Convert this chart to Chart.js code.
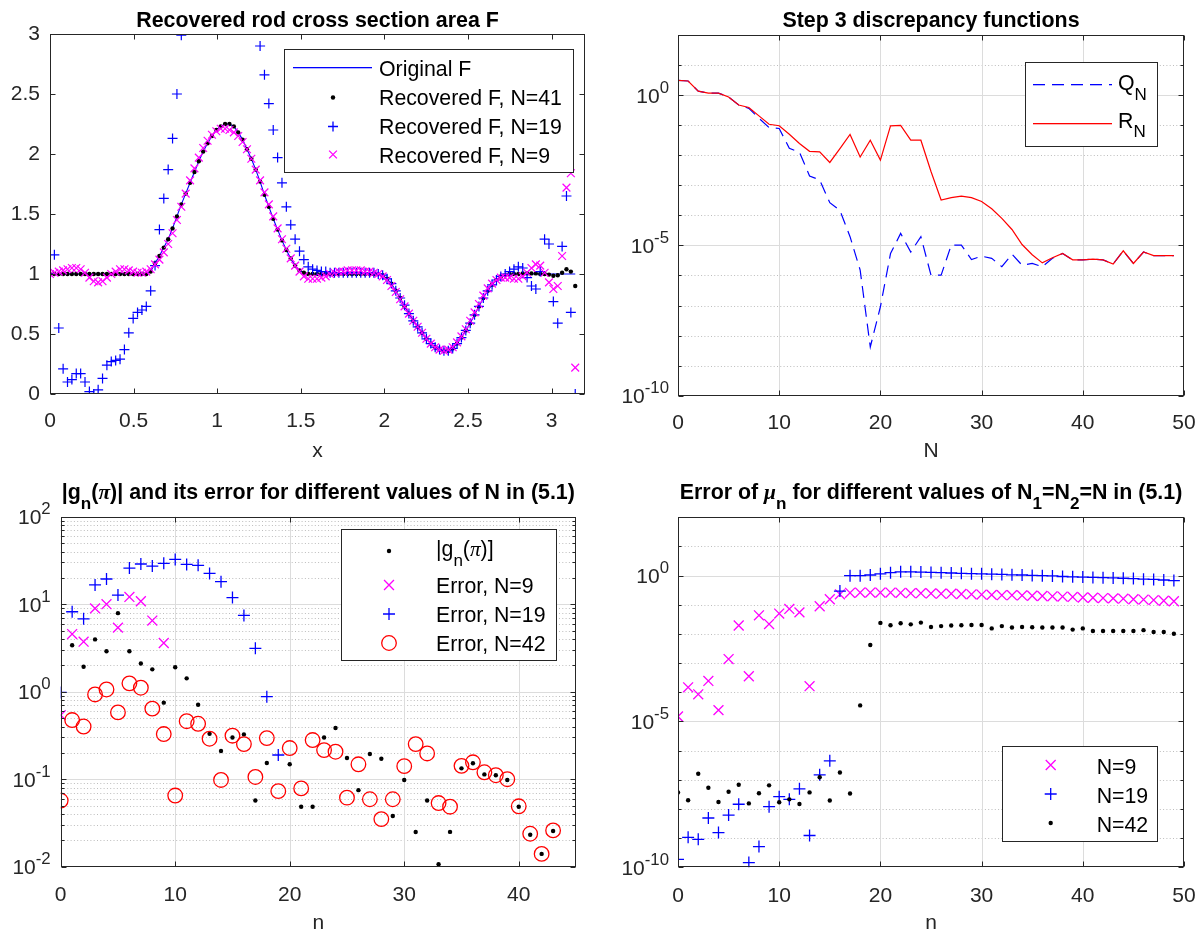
<!DOCTYPE html>
<html><head><meta charset="utf-8">
<script src="https://cdn.jsdelivr.net/npm/chart.js@4.4.1/dist/chart.umd.min.js"></script>
<style>
html,body{margin:0;padding:0;background:#fff;}
body{width:1204px;height:936px;position:relative;overflow:hidden;}
canvas{position:absolute;}
</style></head><body>
<canvas id="c1" width="600" height="468" style="left:0;top:0"></canvas>
<canvas id="c2" width="604" height="468" style="left:600px;top:0"></canvas>
<canvas id="c3" width="600" height="468" style="left:0;top:468px"></canvas>
<canvas id="c4" width="604" height="468" style="left:600px;top:468px"></canvas>
<script>
// ================= DATA =================
// Panel 1: recovered rod cross section area F
const p1X = [0,0.0262,0.0524,0.0785,0.1047,0.1309,0.1571,0.1833,0.2094,0.2356,
0.2618,0.2880,0.3142,0.3403,0.3665,0.3927,0.4189,0.4451,0.4712,0.4974,
0.5236,0.5498,0.5760,0.6021,0.6283,0.6545,0.6807,0.7069,0.7330,0.7592,
0.7854,0.8116,0.8378,0.8639,0.8901,0.9163,0.9425,0.9687,0.9948,1.0210,
1.0472,1.0734,1.0996,1.1257,1.1519,1.1781,1.2043,1.2305,1.2566,1.2828,
1.3090,1.3352,1.3614,1.3875,1.4137,1.4399,1.4661,1.4923,1.5184,1.5446,
1.5708,1.5970,1.6232,1.6493,1.6755,1.7017,1.7279,1.7541,1.7802,1.8064,
1.8326,1.8588,1.8850,1.9111,1.9373,1.9635,1.9897,2.0159,2.0420,2.0682,
2.0944,2.1206,2.1468,2.1729,2.1991,2.2253,2.2515,2.2777,2.3038,2.3300,
2.3562,2.3824,2.4086,2.4347,2.4609,2.4871,2.5133,2.5395,2.5656,2.5918,
2.6180,2.6442,2.6704,2.6965,2.7227,2.7489,2.7751,2.8013,2.8274,2.8536,
2.8798,2.9060,2.9322,2.9583,2.9845,3.0107,3.0369,3.0631,3.0892,3.1154,3.1416];
const p1Original = [1,1,1,1,1,1,1,1,1,1,
1,1,1,1,1,1,1,1,1,1,
1,1,1,1.02,1.09,1.15,1.22,1.29,1.38,1.48,
1.58,1.67,1.76,1.85,1.94,2.02,2.09,2.15,2.20,2.23,
2.25,2.25,2.23,2.18,2.12,2.04,1.96,1.87,1.77,1.66,
1.56,1.46,1.37,1.28,1.20,1.13,1.07,1.03,1.01,1,
1,1,1,1,1,1,1,1,1,1,
1,1,1,1,1,1,0.99,0.96,0.92,0.86,
0.80,0.73,0.67,0.61,0.56,0.51,0.46,0.42,0.39,0.37,
0.36,0.36,0.38,0.42,0.47,0.53,0.59,0.66,0.73,0.80,
0.86,0.91,0.95,0.98,0.99,1,1,1,1,1,
1,1,1,1,1,1,1,1,1,1,1];
const p1N41 = [1,1,1,1,1,1,1,1,1,1,
1,1,1,1,1,1,1,1,1,1,
1,1,1,1.02,1.09,1.15,1.22,1.29,1.38,1.48,
1.58,1.67,1.76,1.85,1.94,2.02,2.09,2.15,2.20,2.23,
2.25,2.25,2.23,2.18,2.12,2.04,1.96,1.87,1.77,1.66,
1.56,1.46,1.37,1.28,1.20,1.13,1.07,1.03,1.01,1,
1,1,1,1,1,1,1,1,1,1,
1,1,1,1,1,1,0.99,0.96,0.92,0.86,
0.80,0.73,0.67,0.61,0.56,0.51,0.46,0.42,0.39,0.37,
0.36,0.36,0.38,0.42,0.47,0.53,0.59,0.66,0.73,0.80,
0.86,0.91,0.95,0.98,0.99,1,1,1,1.005,1.005,
1.005,1.005,1.0,1.0,0.995,0.985,0.99,1.01,1.04,1.02,0.90];
const p1N19 = [1.00,1.16,0.55,0.21,0.10,0.12,0.17,0.17,0.10,0.02,
0.00,0.035,0.13,0.24,0.27,0.28,0.29,0.37,0.51,0.63,
0.68,0.70,0.73,0.86,1.07,1.37,1.63,1.87,2.13,2.50,
2.99,3.5,3.9,4.2,4.4,4.6,4.7,4.7,4.7,4.6,
4.5,4.3,4.1,3.9,3.7,3.5,3.35,3.2,2.90,2.66,
2.42,2.20,1.97,1.76,1.56,1.41,1.29,1.19,1.12,1.06,
1.04,1.03,1.02,1.02,1.01,1.01,1.01,1.01,1.01,1.01,
1.01,1.01,1.01,1.01,1.01,1.00,0.99,0.96,0.92,0.86,
0.80,0.74,0.67,0.61,0.56,0.51,0.46,0.42,0.39,0.37,
0.36,0.36,0.38,0.42,0.47,0.53,0.59,0.66,0.73,0.80,
0.86,0.91,0.95,0.98,1.00,1.02,1.04,1.06,1.05,0.97,
0.90,0.875,1.02,1.29,1.25,0.77,0.59,1.23,1.65,0.68,0.00];
const p1N9 = [1.00,1.01,1.02,1.03,1.04,1.05,1.05,1.04,1.01,0.97,
0.94,0.93,0.94,0.97,1.00,1.02,1.04,1.04,1.03,1.02,
1.01,1.01,1.02,1.04,1.08,1.12,1.18,1.25,1.34,1.45,
1.56,1.67,1.78,1.88,1.97,2.05,2.11,2.16,2.19,2.21,
2.21,2.20,2.18,2.15,2.10,2.04,1.96,1.87,1.78,1.68,
1.58,1.48,1.38,1.29,1.21,1.13,1.07,1.02,0.98,0.96,
0.96,0.96,0.97,0.98,1.00,1.01,1.02,1.02,1.03,1.03,
1.03,1.03,1.02,1.02,1.01,1.00,0.98,0.95,0.90,0.85,
0.79,0.73,0.67,0.61,0.56,0.51,0.46,0.42,0.39,0.37,
0.36,0.37,0.39,0.43,0.48,0.54,0.61,0.68,0.75,0.82,
0.88,0.92,0.95,0.97,0.97,0.97,0.96,0.96,0.98,1.01,
1.05,1.08,1.07,1.01,0.93,0.875,0.90,1.15,1.72,1.84,0.22];
const p1XTicks = [0,0.5,1,1.5,2,2.5,3];
const p1XTickLabels = ['0','0.5','1','1.5','2','2.5','3'];
const p1YTicks = [0,0.5,1,1.5,2,2.5,3];
const p1YTickLabels = ['0','0.5','1','1.5','2','2.5','3'];

// Panel 2: step 3 discrepancy functions
const p2N = [0,1,2,3,4,5,6,7,8,9,10,11,12,13,14,15,16,17,18,19,20,21,22,23,24,
25,26,27,28,29,30,31,32,33,34,35,36,37,38,39,40,41,42,43,44,45,46,47,48,49];
const p2Q = [3.09,2.95,1.35,1.17,1.17,0.87,0.468,0.363,0.17,0.0832,
0.0776,0.017,0.0126,0.00204,0.00151,2.63e-4,1.45e-4,1.95e-5,1.51e-6,4.17e-9,
9.1e-8,5.37e-6,2.51e-5,6.03e-6,1.95e-5,1.02e-6,1.02e-6,1.02e-5,1.02e-5,3.39e-6,
4.37e-6,3.72e-6,1.95e-6,5.13e-6,2.19e-6,2.51e-6,1.95e-6,3.72e-6,5.37e-6,3.31e-6,
3.31e-6,3.47e-6,3.31e-6,2.4e-6,6.61e-6,2.51e-6,6.03e-6,4.57e-6,4.57e-6,4.57e-6];
const p2R = [3.09,2.95,1.35,1.17,1.17,0.87,0.468,0.389,0.204,0.107,
0.0955,0.0501,0.0245,0.0135,0.0129,0.00575,0.0166,0.049,0.0087,0.0316,
0.0069,0.0955,0.0977,0.0316,0.0316,0.00288,3.24e-4,3.89e-4,4.37e-4,3.89e-4,
2.88e-4,1.66e-4,7.94e-5,3.39e-5,1.07e-5,4.9e-6,2.63e-6,3.89e-6,5.37e-6,3.31e-6,
3.31e-6,3.47e-6,3.31e-6,2.4e-6,6.61e-6,2.51e-6,6.03e-6,4.57e-6,4.57e-6,4.57e-6];
const p2XTicks = [0,10,20,30,40,50];
const p2XTickLabels = ['0','10','20','30','40','50'];
const p2YTicks = [1e-10,1e-5,1];
const p2YTickExponents = ['-10','-5','0'];

// Panel 3: |g_n(pi)| and its error
const p3N = [0,1,2,3,4,5,6,7,8,9,10,11,12,13,14,15,16,17,18,19,20,21,
22,23,24,25,26,27,28,29,30,31,32,33,34,35,36,37,38,39,40,41,42,43];
const p3G = [null,3.4,1.93,3.96,2.9,7.9,2.9,2.1,1.8,0.75,
1.9,1.42,0.71,0.33,0.21,0.30,0.325,0.057,0.153,null,
0.148,0.0485,0.0485,0.30,0.385,0.175,0.075,0.194,0.171,0.038,
0.098,0.0249,0.057,0.0107,0.025,0.133,0.152,0.1135,0.111,0.098,
0.0485,0.0232,0.014,0.0256];
const p3Err9 = [0.54,4.56,3.73,8.96,10.0,5.4,12.1,10.8,6.5,3.6];
const p3Err19 = [0.98,8.2,6.8,16.6,19.4,12.7,25.9,28.8,27.3,29.3,
32.5,28.5,27.8,22.5,18.1,11.9,7.45,3.13,0.877,0.189];
const p3Err42 = [0.057,0.474,0.40,0.93,1.06,0.58,1.245,1.11,0.64,0.328,
0.065,0.46,0.43,0.29,0.098,0.314,0.252,0.106,0.295,0.073,
0.227,0.0785,0.28,0.215,0.206,0.0615,0.148,0.059,0.035,0.059,
0.141,0.252,0.197,0.0534,0.0485,0.142,0.156,0.12,0.111,0.1,
0.049,0.0238,0.014,0.026];
const p3XTicks = [0,10,20,30,40];
const p3XTickLabels = ['0','10','20','30','40'];
const p3YTicks = [1e-2,1e-1,1,10,100];
const p3YTickExponents = ['-2','-1','0','1','2'];

// Panel 4: error of mu_n
const p4N = p2N;
const p4Err9 = [1.48e-5,1.48e-4,8.5e-5,2.45e-4,2.45e-5,1.38e-3,0.0195,3.55e-4,0.0437,0.0219,
0.0501,0.0724,0.055,1.62e-4,0.0891,0.155,0.229,0.257,0.263,0.263,
0.263,0.263,0.257,0.251,0.251,0.245,0.240,0.240,0.234,0.229,
0.224,0.219,0.214,0.214,0.209,0.204,0.200,0.195,0.191,0.186,
0.178,0.174,0.170,0.166,0.162,0.155,0.151,0.145,0.138,0.132];
const p4Err19 = [1.86e-10,1.07e-9,9.1e-10,4.9e-9,1.55e-9,6.17e-9,1.45e-8,1.45e-10,5.13e-10,1.2e-8,
2.63e-8,2.14e-8,4.9e-8,1.23e-9,1.48e-7,4.47e-7,0.295,1.0,1.0,1.05,
1.15,1.26,1.35,1.35,1.32,1.29,1.26,1.23,1.20,1.17,
1.15,1.12,1.10,1.07,1.05,1.02,1.0,0.977,0.933,0.912,
0.891,0.871,0.851,0.832,0.813,0.794,0.759,0.741,0.708,0.676];
const p4Err42 = [3.7e-8,2.0e-8,1.62e-7,5.37e-8,1.74e-8,3.89e-8,6.76e-8,1.55e-8,3.47e-8,6.46e-8,
1.7e-8,2.14e-8,1.48e-8,3.7e-8,1.23e-7,1.95e-8,1.78e-7,3.39e-8,3.55e-5,4.17e-3,
0.024,0.02,0.0234,0.0214,0.0245,0.0174,0.0186,0.0195,0.02,0.0204,
0.0204,0.0155,0.0186,0.0166,0.0174,0.017,0.0166,0.0166,0.0166,0.0141,
0.0155,0.0126,0.0126,0.0126,0.0126,0.0126,0.0135,0.0117,0.0117,0.0102];
const p4XTicks = p2XTicks;
const p4XTickLabels = p2XTickLabels;
const p4YTicks = p2YTicks;
const p4YTickExponents = p2YTickExponents;

// ================= STYLE / HELPERS =================
const BLUE = '#0000ff', MAG = '#ff00ff', RED = '#ff0000', BLK = '#000000', AX = '#262626';
const SANS = "'Liberation Sans', Arial, Helvetica, sans-serif";
const SERIF = "'Liberation Serif', 'DejaVu Serif', serif";
const TITLE_SIZE = 21.4, LEG_SIZE = 21.3, TICK_SIZE = 21;
Chart.defaults.font.family = SANS;
Chart.defaults.font.size = 21;
Chart.defaults.color = AX;

function pts(xs, ys) {
  const out = [];
  ys.forEach((y, i) => { if (y !== null && y !== undefined) out.push({x: xs[i], y: y}); });
  return out;
}
function minorLog(a, b) { const r = []; for (let e = a; e < b; e++) for (let m = 2; m <= 9; m++) r.push(m * Math.pow(10, e)); return r; }

function xAxis(min, max, tv, tl, title, h, pb, tpad) {
  return {
    type: 'linear', min: min, max: max, position: 'bottom',
    afterBuildTicks: s => { s.ticks = tv.map(v => ({value: v})); },
    afterFit: s => { s.height = h; s.paddingLeft = 0; s.paddingRight = 0; },
    grid: {display: false, drawTicks: false}, border: {display: false},
    ticks: {autoSkip: false, maxRotation: 0, minRotation: 0, padding: tpad, color: AX, font: {size: TICK_SIZE},
      callback: (v, i) => tl[i]},
    title: {display: true, text: title, color: AX, font: {size: 21}, padding: {top: 0, bottom: pb}}
  };
}
function yAxisLinear(min, max, tv, tl, w, pad) {
  return {
    type: 'linear', min: min, max: max, position: 'left',
    afterBuildTicks: s => { s.ticks = tv.map(v => ({value: v})); },
    afterFit: s => { s.width = w; s.paddingTop = 0; s.paddingBottom = 0; },
    grid: {display: false, drawTicks: false}, border: {display: false},
    ticks: {autoSkip: false, padding: pad, color: AX, font: {size: TICK_SIZE}, callback: (v, i) => tl[i]}
  };
}
// log axes: scale from the library, labels "10^k" drawn with a raised exponent by the decor plugin
function yAxisLog(min, max, tv, w) {
  return {
    type: 'logarithmic', min: min, max: max, position: 'left',
    afterBuildTicks: s => { s.ticks = tv.map(v => ({value: v})); },
    afterFit: s => { s.width = w; s.paddingTop = 0; s.paddingBottom = 0; },
    grid: {display: false, drawTicks: false}, border: {display: false},
    ticks: {display: false, autoSkip: false}
  };
}

function segFont(s, size, bold) {
  const sz = (s.sub || s.sup) ? size * 0.8 : size;
  return (s.it ? 'italic ' : '') + (bold ? 'bold ' : '') + sz + 'px ' + (s.serif ? SERIF : SANS);
}
function drawRich(ctx, segs, x, y, align, size, bold, color) {
  ctx.save();
  ctx.fillStyle = color; ctx.textBaseline = 'alphabetic'; ctx.textAlign = 'left';
  let w = 0;
  for (const s of segs) { ctx.font = segFont(s, size, bold); w += ctx.measureText(s.t).width; }
  let cx = align === 'center' ? x - w / 2 : (align === 'right' ? x - w : x);
  for (const s of segs) {
    ctx.font = segFont(s, size, bold);
    const dy = s.sub ? size * 0.45 : (s.sup ? -size * 0.47 : 0);
    ctx.fillText(s.t, cx, y + dy);
    cx += ctx.measureText(s.t).width;
  }
  ctx.restore();
}
function drawMarker(ctx, m, x, y, r, color, lw) {
  ctx.save();
  ctx.strokeStyle = color; ctx.fillStyle = color; ctx.lineWidth = lw;
  ctx.beginPath();
  if (m === 'dot') { ctx.arc(x, y, r, 0, 2 * Math.PI); ctx.fill(); }
  else if (m === 'plus') { ctx.moveTo(x - r, y); ctx.lineTo(x + r, y); ctx.moveTo(x, y - r); ctx.lineTo(x, y + r); ctx.stroke(); }
  else if (m === 'x') { const d = r * Math.SQRT1_2; ctx.moveTo(x - d, y - d); ctx.lineTo(x + d, y + d); ctx.moveTo(x + d, y - d); ctx.lineTo(x - d, y + d); ctx.stroke(); }
  else if (m === 'circle') { ctx.arc(x, y, r, 0, 2 * Math.PI); ctx.stroke(); }
  ctx.restore();
}

function decor(o) {
  return {
    id: 'decor',
    beforeDatasetsDraw(chart) {
      if (!o.grid) return;
      const ctx = chart.ctx, a = chart.chartArea, xs = chart.scales.x, ys = chart.scales.y;
      ctx.save();
      ctx.lineWidth = 1;
      ctx.strokeStyle = 'rgba(38,38,38,0.30)';
      ctx.setLineDash([1, 2.3]);
      for (const v of (o.grid.yMinor || [])) {
        const p = Math.round(ys.getPixelForValue(v)) + 0.5;
        ctx.beginPath(); ctx.moveTo(a.left, p); ctx.lineTo(a.right, p); ctx.stroke();
      }
      ctx.setLineDash([]);
      ctx.strokeStyle = '#dcdcdc';
      for (const v of (o.grid.yMajor || [])) {
        const p = Math.round(ys.getPixelForValue(v)) + 0.5;
        ctx.beginPath(); ctx.moveTo(a.left, p); ctx.lineTo(a.right, p); ctx.stroke();
      }
      for (const v of (o.grid.xMajor || [])) {
        const p = Math.round(xs.getPixelForValue(v)) + 0.5;
        ctx.beginPath(); ctx.moveTo(p, a.top); ctx.lineTo(p, a.bottom); ctx.stroke();
      }
      ctx.restore();
    },
    afterDatasetsDraw(chart) {
      const ctx = chart.ctx, a = chart.chartArea, xs = chart.scales.x, ys = chart.scales.y;
      const L = Math.round(a.left) + 0.5, R = Math.round(a.right) - 0.5, T = Math.round(a.top) + 0.5, B = Math.round(a.bottom) - 0.5;
      ctx.save();
      ctx.setLineDash([]);
      ctx.strokeStyle = AX; ctx.lineWidth = 1;
      ctx.beginPath();
      const tl = 5, ml = 3;
      for (const v of o.ticks.x) {
        const p = Math.round(xs.getPixelForValue(v)) + 0.5;
        ctx.moveTo(p, B); ctx.lineTo(p, B - tl); ctx.moveTo(p, T); ctx.lineTo(p, T + tl);
      }
      for (const v of o.ticks.y) {
        const p = Math.round(ys.getPixelForValue(v)) + 0.5;
        ctx.moveTo(L, p); ctx.lineTo(L + tl, p); ctx.moveTo(R, p); ctx.lineTo(R - tl, p);
      }
      for (const v of (o.ticks.yMinor || [])) {
        const p = Math.round(ys.getPixelForValue(v)) + 0.5;
        ctx.moveTo(L, p); ctx.lineTo(L + ml, p); ctx.moveTo(R, p); ctx.lineTo(R - ml, p);
      }
      ctx.stroke();
      ctx.strokeRect(L, T, R - L, B - T);
      ctx.restore();
    },
    afterDraw(chart) {
      const ctx = chart.ctx, a = chart.chartArea;
      // log tick labels 10^k
      if (o.yLog) {
        const ys = chart.scales.y;
        o.yLog.values.forEach((v, i) => {
          const p = ys.getPixelForValue(v);
          drawRich(ctx, [{t: '10'}, {t: o.yLog.exps[i], sup: 1}], a.left - o.yLog.gap, p + 7.5, 'right', TICK_SIZE, false, AX);
        });
      }
      drawRich(ctx, o.title, (a.left + a.right) / 2, o.titleY, 'center', TITLE_SIZE, true, BLK);
      const lg = o.legend;
      ctx.save();
      ctx.setLineDash([]);
      ctx.fillStyle = '#ffffff';
      ctx.fillRect(lg.box[0], lg.box[1], lg.box[2] - lg.box[0], lg.box[3] - lg.box[1]);
      ctx.strokeStyle = AX; ctx.lineWidth = 1;
      ctx.strokeRect(Math.round(lg.box[0]) + 0.5, Math.round(lg.box[1]) + 0.5,
        Math.round(lg.box[2] - lg.box[0]), Math.round(lg.box[3] - lg.box[1]));
      ctx.restore();
      for (const it of lg.items) {
        if (it.kind === 'line') {
          ctx.save();
          ctx.fillStyle = it.color;
          ctx.fillRect(lg.x0, Math.round(it.y), lg.x1 - lg.x0, 1.3);
          ctx.restore();
        } else if (it.kind === 'dash') {
          ctx.save();
          ctx.fillStyle = it.color;
          for (let xx = lg.x0; xx < lg.x1; xx += 19) ctx.fillRect(xx, Math.round(it.y), Math.min(12, lg.x1 - xx), 1.3);
          ctx.restore();
        } else {
          drawMarker(ctx, it.m, lg.mx, it.y, it.r, it.color, 1.3);
        }
        drawRich(ctx, it.text, lg.tx, it.by, 'left', LEG_SIZE, false, BLK);
      }
    }
  };
}

const baseOpts = (pad, scales) => ({
  responsive: false, animation: false, events: [],
  layout: {padding: pad},
  plugins: {legend: {display: false}, tooltip: {enabled: false}, title: {display: false}},
  scales: scales
});
const LOG_MINOR_10 = [1e-9, 1e-8, 1e-7, 1e-6, 1e-4, 1e-3, 1e-2, 1e-1, 10];

// ================= PANEL 1 =================
new Chart(document.getElementById('c1'), {
  type: 'scatter',
  data: {datasets: [
    {label: 'Original F', data: pts(p1X, p1Original), showLine: true, borderColor: BLUE, borderWidth: 1.1, pointRadius: 0, order: 4},
    {label: 'Recovered F, N=41', data: pts(p1X, p1N41), pointStyle: 'circle', pointRadius: 2.2, backgroundColor: BLK, borderColor: BLK, borderWidth: 0, order: 3},
    {label: 'Recovered F, N=19', data: pts(p1X, p1N19), pointStyle: 'cross', pointRadius: 5, borderColor: BLUE, backgroundColor: BLUE, borderWidth: 1.2, order: 2},
    {label: 'Recovered F, N=9', data: pts(p1X, p1N9), pointStyle: 'crossRot', pointRadius: 5.5, borderColor: MAG, backgroundColor: MAG, borderWidth: 1.2, order: 1}
  ]},
  options: baseOpts({left: 0, top: 34, right: 15, bottom: 0}, {
    x: xAxis(0, 3.2, p1XTicks, p1XTickLabels, 'x', 74, 4.4, 15),
    y: yAxisLinear(0, 3, p1YTicks, p1YTickLabels, 50, 10)
  }),
  plugins: [decor({
    title: [{t: 'Recovered rod cross section area F'}], titleY: 27,
    ticks: {x: p1XTicks, y: p1YTicks},
    legend: {box: [284, 49, 573, 172], x0: 293, x1: 372, mx: 333, tx: 379, items: [
      {kind: 'line', color: BLUE, y: 67, by: 76, text: [{t: 'Original F'}]},
      {kind: 'm', m: 'dot', r: 2.2, color: BLK, y: 97.5, by: 105, text: [{t: 'Recovered F, N=41'}]},
      {kind: 'm', m: 'plus', r: 5, color: BLUE, y: 126.5, by: 133.5, text: [{t: 'Recovered F, N=19'}]},
      {kind: 'm', m: 'x', r: 5.5, color: MAG, y: 154.5, by: 162.5, text: [{t: 'Recovered F, N=9'}]}
    ]}
  })]
});

// ================= PANEL 2 =================
new Chart(document.getElementById('c2'), {
  type: 'scatter',
  data: {datasets: [
    {label: 'Q_N', data: pts(p2N, p2Q), showLine: true, borderColor: BLUE, borderWidth: 1.2, borderDash: [12, 7], pointRadius: 0, order: 2},
    {label: 'R_N', data: pts(p2N, p2R), showLine: true, borderColor: RED, borderWidth: 1.2, pointRadius: 0, order: 1}
  ]},
  options: baseOpts({left: 0, top: 35, right: 20, bottom: 0}, {
    x: xAxis(0, 50, p2XTicks, p2XTickLabels, 'N', 72.3, 4.4, 15),
    y: yAxisLog(1e-10, 1e2, p2YTicks, 78)
  }),
  plugins: [decor({
    title: [{t: 'Step 3 discrepancy functions'}], titleY: 27,
    yLog: {values: p2YTicks, exps: p2YTickExponents, gap: 9},
    grid: {xMajor: [10, 20, 30, 40], yMajor: [1e-5, 1], yMinor: LOG_MINOR_10},
    ticks: {x: p2XTicks, y: p2YTicks, yMinor: LOG_MINOR_10},
    legend: {box: [425, 62, 557, 146], x0: 433, x1: 512, mx: 472, tx: 518, items: [
      {kind: 'dash', color: BLUE, y: 84, by: 90, text: [{t: 'Q'}, {t: 'N', sub: 1}]},
      {kind: 'line', color: RED, y: 123, by: 127.7, text: [{t: 'R'}, {t: 'N', sub: 1}]}
    ]}
  })]
});

// ================= PANEL 3 =================
new Chart(document.getElementById('c3'), {
  type: 'scatter',
  data: {datasets: [
    {label: '|g_n(pi)|', data: pts(p3N, p3G), pointStyle: 'circle', pointRadius: 2.2, backgroundColor: BLK, borderColor: BLK, borderWidth: 0, order: 4},
    {label: 'Error, N=9', data: pts(p3N, p3Err9), pointStyle: 'crossRot', pointRadius: 7, borderColor: MAG, backgroundColor: MAG, borderWidth: 1.3, order: 3},
    {label: 'Error, N=19', data: pts(p3N, p3Err19), pointStyle: 'cross', pointRadius: 6, borderColor: BLUE, backgroundColor: BLUE, borderWidth: 1.3, order: 2},
    {label: 'Error, N=42', data: pts(p3N, p3Err42), pointStyle: 'circle', pointRadius: 7.3, borderColor: RED, backgroundColor: 'rgba(0,0,0,0)', borderWidth: 1.3, order: 1}
  ]},
  options: baseOpts({left: 0, top: 48.7, right: 24, bottom: 0}, {
    x: xAxis(0, 45, p3XTicks, p3XTickLabels, 'n', 69.3, 0.4, 16),
    y: yAxisLog(1e-2, 1e2, p3YTicks, 60.7)
  }),
  plugins: [decor({
    title: [{t: '|g'}, {t: 'n', sub: 1}, {t: '('}, {t: '\u03C0', it: 1, serif: 1}, {t: ')| and its error for different values of N in (5.1)'}], titleY: 31,
    yLog: {values: p3YTicks, exps: p3YTickExponents, gap: 10},
    grid: {xMajor: [10, 20, 30, 40], yMajor: [0.1, 1, 10], yMinor: minorLog(-2, 2)},
    ticks: {x: p3XTicks, y: p3YTicks, yMinor: minorLog(-2, 2)},
    legend: {box: [341, 61, 556, 192], mx: 389, tx: 436, items: [
      {kind: 'm', m: 'dot', r: 2.2, color: BLK, y: 83, by: 88, text: [{t: '|g'}, {t: 'n', sub: 1}, {t: '('}, {t: '\u03C0', it: 1, serif: 1}, {t: ')]'}]},
      {kind: 'm', m: 'x', r: 7, color: MAG, y: 117, by: 125, text: [{t: 'Error, N=9'}]},
      {kind: 'm', m: 'plus', r: 6, color: BLUE, y: 146, by: 153.7, text: [{t: 'Error, N=19'}]},
      {kind: 'm', m: 'circle', r: 7.3, color: RED, y: 175, by: 182.7, text: [{t: 'Error, N=42'}]}
    ]}
  })]
});

// ================= PANEL 4 =================
new Chart(document.getElementById('c4'), {
  type: 'scatter',
  data: {datasets: [
    {label: 'N=9', data: pts(p4N, p4Err9), pointStyle: 'crossRot', pointRadius: 7, borderColor: MAG, backgroundColor: MAG, borderWidth: 1.3, order: 3},
    {label: 'N=19', data: pts(p4N, p4Err19), pointStyle: 'cross', pointRadius: 6, borderColor: BLUE, backgroundColor: BLUE, borderWidth: 1.3, order: 2},
    {label: 'N=42', data: pts(p4N, p4Err42), pointStyle: 'circle', pointRadius: 2.2, backgroundColor: BLK, borderColor: BLK, borderWidth: 0, order: 1}
  ]},
  options: baseOpts({left: 0, top: 49.3, right: 20, bottom: 0}, {
    x: xAxis(0, 50, p4XTicks, p4XTickLabels, 'n', 68.7, 0.4, 16),
    y: yAxisLog(1e-10, 1e2, p4YTicks, 78)
  }),
  plugins: [decor({
    title: [{t: 'Error of '}, {t: '\u03BC', it: 1, serif: 1}, {t: 'n', sub: 1}, {t: ' for different values of N'}, {t: '1', sub: 1}, {t: '=N'}, {t: '2', sub: 1}, {t: '=N in (5.1)'}], titleY: 31,
    yLog: {values: p4YTicks, exps: p4YTickExponents, gap: 9},
    grid: {xMajor: [10, 20, 30, 40], yMajor: [1e-5, 1], yMinor: LOG_MINOR_10},
    ticks: {x: p4XTicks, y: p4YTicks, yMinor: LOG_MINOR_10},
    legend: {box: [402, 278, 557, 373], mx: 450.7, tx: 496.7, items: [
      {kind: 'm', m: 'x', r: 7, color: MAG, y: 297, by: 306, text: [{t: 'N=9'}]},
      {kind: 'm', m: 'plus', r: 6, color: BLUE, y: 326, by: 335.3, text: [{t: 'N=19'}]},
      {kind: 'm', m: 'dot', r: 2.2, color: BLK, y: 355, by: 363.7, text: [{t: 'N=42'}]}
    ]}
  })]
});
</script>
</body></html>
